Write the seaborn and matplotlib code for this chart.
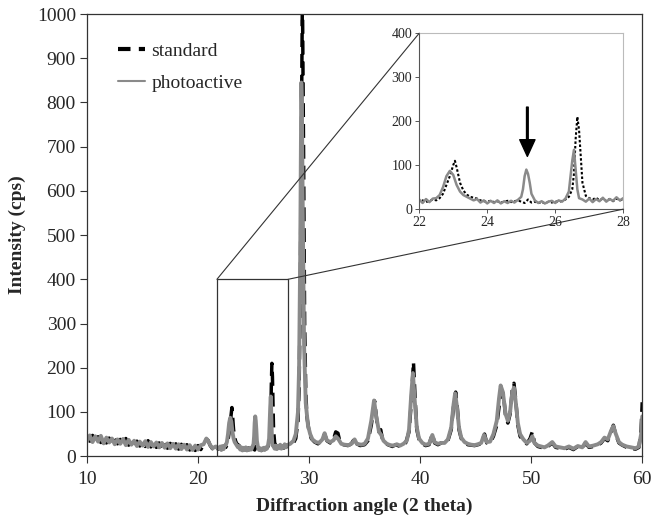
import matplotlib
matplotlib.use("Agg")
import matplotlib.pyplot as plt
import seaborn as sns
import pandas as pd
from matplotlib.patches import Rectangle, ConnectionPatch
from matplotlib.lines import Line2D

# -----------------------------------
# Data (read from the XRD pattern)
# -----------------------------------
std_angle = [
    10.0, 10.25, 10.5, 10.75, 11.0, 11.25, 11.5, 11.75, 12.0, 12.25, 12.5, 12.75,
    13.0, 13.25, 13.5, 13.75, 14.0, 14.25, 14.5, 14.75, 15.0, 15.25, 15.5, 15.75,
    16.0, 16.25, 16.5, 16.75, 17.0, 17.25, 17.5, 17.75, 18.0, 18.25, 18.5, 18.75,
    19.0, 19.25, 19.5, 19.75, 20.0, 20.25, 20.5, 20.75, 20.9, 21.1, 21.3, 21.6, 21.8,
    22.0, 22.1, 22.2, 22.3, 22.4, 22.5, 22.6, 22.7, 22.8, 22.9, 23.0, 23.05, 23.1,
    23.2, 23.3, 23.4, 23.5, 23.6, 23.7, 23.8, 23.9, 24.0, 24.1, 24.2, 24.3, 24.4,
    24.5, 24.6, 24.7, 24.8, 24.9, 25.0, 25.1, 25.2, 25.3, 25.4, 25.5, 25.6, 25.7,
    25.8, 25.9, 26.0, 26.1, 26.2, 26.3, 26.4, 26.5, 26.55, 26.6, 26.65, 26.7, 26.75,
    26.8, 26.9, 27.0, 27.1, 27.2, 27.3, 27.4, 27.5, 27.6, 27.7, 27.8, 27.9,
    28.0, 28.3, 28.6, 28.8, 29.0, 29.1, 29.2, 29.3, 29.4, 29.5, 29.6, 29.7, 29.8,
    30.0, 30.2, 30.5, 30.8, 31.1, 31.4, 31.6, 31.9, 32.2, 32.4, 32.6, 32.8, 33.1,
    33.5, 33.8, 34.1, 34.3, 34.6, 35.0, 35.3, 35.6, 35.9, 36.1, 36.3, 36.45, 36.6,
    36.9, 37.2, 37.5, 37.8, 38.1, 38.4, 38.7, 39.0, 39.2, 39.4, 39.55, 39.7, 39.9,
    40.2, 40.5, 40.8, 41.1, 41.3, 41.6, 41.9, 42.2, 42.5, 42.8, 43.0, 43.2, 43.35,
    43.5, 43.7, 44.0, 44.3, 44.6, 44.9, 45.2, 45.5, 45.8, 46.0, 46.3, 46.6, 46.9,
    47.1, 47.3, 47.5, 47.7, 47.9, 48.1, 48.3, 48.45, 48.6, 48.8, 49.0, 49.3, 49.6,
    49.9, 50.1, 50.3, 50.6, 50.9, 51.2, 51.5, 51.9, 52.2, 52.6, 53.0, 53.4, 53.8,
    54.2, 54.6, 54.9, 55.2, 55.6, 56.0, 56.3, 56.6, 56.9, 57.2, 57.4, 57.6, 57.9,
    58.2, 58.6, 59.0, 59.4, 59.7, 59.9, 60.0,
]
std_counts = [
    46, 34, 47, 33, 44, 31, 45, 30, 41, 29, 40, 28,
    38, 27, 40, 25, 36, 25, 34, 23, 33, 22, 35, 21,
    31, 20, 30, 19, 31, 18, 29, 17, 28, 16, 27, 15,
    26, 14, 25, 13, 24, 15, 26, 38, 36, 24, 17, 23, 16,
    18, 20, 16, 19, 22, 20, 25, 35, 55, 75, 100, 110, 95,
    60, 42, 33, 28, 26, 24, 20, 18, 17, 19, 16, 18, 15,
    17, 19, 16, 18, 20, 17, 14, 22, 15, 17, 14, 16, 13,
    17, 15, 18, 16, 19, 22, 28, 45, 80, 160, 210, 180, 120,
    60, 30, 25, 22, 26, 20, 24, 19, 23, 18, 24, 20,
    22, 25, 30, 40, 80, 150, 350, 700, 1050, 700, 300, 150, 90,
    55, 40, 32, 28, 35, 50, 35, 30, 38, 55, 52, 30, 26,
    24, 28, 40, 28, 24, 26, 35, 70, 125, 80, 55, 60, 40,
    28, 25, 22, 26, 23, 25, 30, 55, 120, 213, 130, 60, 38,
    28, 24, 26, 50, 30, 26, 30, 28, 35, 60, 110, 145, 110,
    60, 40, 30, 26, 25, 24, 26, 28, 50, 30, 30, 45, 70,
    110, 150, 140, 90, 75, 95, 150, 165, 130, 70, 45, 35, 28,
    40, 55, 30, 22, 20, 18, 22, 30, 20, 18, 16, 20, 15,
    22, 18, 30, 20, 22, 25, 30, 40, 35, 55, 70, 50, 30,
    25, 20, 18, 16, 20, 60, 122,
]

photo_angle = [
    10.0, 10.25, 10.5, 10.75, 11.0, 11.25, 11.5, 11.75, 12.0, 12.25, 12.5, 12.75,
    13.0, 13.25, 13.5, 13.75, 14.0, 14.25, 14.5, 14.75, 15.0, 15.25, 15.5, 15.75,
    16.0, 16.25, 16.5, 16.75, 17.0, 17.25, 17.5, 17.75, 18.0, 18.25, 18.5, 18.75,
    19.0, 19.25, 19.5, 19.75, 20.0, 20.25, 20.5, 20.75, 20.9, 21.1, 21.3, 21.6, 21.8,
    22.0, 22.1, 22.2, 22.3, 22.4, 22.5, 22.6, 22.7, 22.8, 22.9, 23.0, 23.1, 23.2,
    23.3, 23.4, 23.5, 23.6, 23.7, 23.8, 23.9, 24.0, 24.1, 24.2, 24.3, 24.4, 24.5,
    24.6, 24.7, 24.8, 24.9, 25.0, 25.05, 25.1, 25.15, 25.2, 25.25, 25.3, 25.4, 25.5,
    25.6, 25.7, 25.8, 25.9, 26.0, 26.1, 26.2, 26.3, 26.4, 26.45, 26.5, 26.55, 26.6,
    26.65, 26.7, 26.8, 26.9, 27.0, 27.1, 27.2, 27.3, 27.4, 27.5, 27.6, 27.7, 27.8, 27.9,
    28.0, 28.3, 28.6, 28.8, 29.0, 29.1, 29.2, 29.3, 29.35, 29.45, 29.55, 29.7, 29.9,
    30.1, 30.3, 30.6, 30.9, 31.2, 31.4, 31.6, 31.9, 32.2, 32.4, 32.6, 32.9, 33.2,
    33.6, 33.9, 34.1, 34.3, 34.7, 35.0, 35.3, 35.6, 35.85, 36.05, 36.3, 36.5, 36.7,
    37.0, 37.3, 37.6, 37.9, 38.2, 38.5, 38.8, 39.0, 39.2, 39.35, 39.5, 39.7, 39.9,
    40.2, 40.5, 40.8, 41.1, 41.3, 41.6, 41.9, 42.2, 42.5, 42.8, 43.0, 43.15, 43.3,
    43.5, 43.7, 44.0, 44.3, 44.6, 44.9, 45.2, 45.5, 45.75, 46.0, 46.3, 46.6, 46.9,
    47.1, 47.25, 47.45, 47.7, 47.9, 48.1, 48.3, 48.45, 48.6, 48.8, 49.0, 49.3, 49.6,
    49.9, 50.1, 50.3, 50.6, 50.9, 51.2, 51.5, 51.9, 52.2, 52.6, 53.0, 53.4, 53.8,
    54.2, 54.6, 54.9, 55.2, 55.6, 56.0, 56.3, 56.6, 56.9, 57.2, 57.4, 57.6, 57.9,
    58.2, 58.6, 59.0, 59.4, 59.7, 59.9, 60.0,
]
photo_counts = [
    34, 47, 32, 45, 33, 46, 29, 42, 31, 40, 27, 38,
    28, 39, 25, 37, 26, 35, 23, 33, 24, 34, 21, 32,
    22, 31, 20, 30, 19, 29, 18, 28, 17, 27, 16, 26,
    15, 25, 14, 24, 15, 25, 27, 40, 35, 25, 18, 22, 17,
    22, 14, 23, 16, 24, 25, 32, 50, 75, 87, 78, 55, 40,
    32, 28, 24, 20, 23, 15, 20, 13, 19, 14, 20, 13, 18,
    14, 19, 15, 21, 28, 45, 75, 90, 80, 60, 35, 20, 14,
    18, 13, 17, 19, 14, 20, 17, 24, 40, 75, 110, 135, 90,
    45, 25, 22, 17, 24, 16, 23, 18, 26, 17, 23, 19, 27, 20,
    25, 28, 35, 50, 100, 200, 450, 845, 800, 500, 250, 120, 70,
    50, 38, 32, 30, 38, 52, 36, 32, 36, 45, 40, 28, 26,
    25, 30, 38, 28, 26, 28, 40, 80, 126, 90, 55, 48, 35,
    28, 25, 24, 27, 24, 28, 35, 60, 140, 188, 130, 65, 40,
    30, 26, 28, 48, 32, 28, 30, 30, 38, 65, 115, 142, 115,
    65, 42, 32, 28, 26, 25, 27, 30, 48, 32, 33, 50, 80,
    130, 160, 145, 95, 80, 100, 145, 155, 125, 75, 50, 38, 30,
    35, 45, 30, 24, 22, 20, 24, 32, 22, 20, 18, 22, 17,
    23, 20, 32, 22, 24, 27, 32, 42, 38, 58, 68, 52, 32,
    26, 22, 20, 18, 22, 50, 90,
]

x_ticks = [10, 20, 30, 40, 50, 60]
y_ticks = [0, 100, 200, 300, 400, 500, 600, 700, 800, 900, 1000]
inset_x_ticks = [22, 24, 26, 28]
inset_y_ticks = [0, 100, 200, 300, 400]

df_std = pd.DataFrame({"angle": std_angle, "counts": std_counts})
df_photo = pd.DataFrame({"angle": photo_angle, "counts": photo_counts})

# -----------------------------------
# Style
# -----------------------------------
sns.set_theme(style="white")
plt.rcParams["font.family"] = ["Liberation Serif", "DejaVu Serif"]

GRAY = "#8a8a8a"

fig = plt.figure(figsize=(6.54, 5.19), dpi=100)
ax = fig.add_axes([0.133, 0.121, 0.849, 0.852])

sns.lineplot(data=df_std, x="angle", y="counts", ax=ax, color="black",
             linestyle=(0, (4, 2)), linewidth=2.5, sort=False, estimator=None)
sns.lineplot(data=df_photo, x="angle", y="counts", ax=ax, color=GRAY,
             linewidth=2.8, sort=False, estimator=None)

ax.set_xlim(10, 60)
ax.set_ylim(0, 1000)
ax.set_xticks(x_ticks)
ax.set_yticks(y_ticks)
ax.tick_params(axis="both", direction="out", length=5, width=0.8, color="#333333",
               labelsize=14, left=True, bottom=True)
ax.tick_params(axis="x", pad=6)
ax.tick_params(axis="y", pad=3)
for s in ax.spines.values():
    s.set_color("#333333")
    s.set_linewidth(0.9)

ax.set_xlabel("Diffraction angle (2 theta)", fontsize=14, fontweight="bold")
ax.set_ylabel("Intensity (cps)", fontsize=14, fontweight="bold")
ax.xaxis.set_label_coords(0.5, -0.094)
ax.yaxis.set_label_coords(-0.11, 0.5)

handles = [
    Line2D([], [], color="black", linestyle=(0, (3, 2)), linewidth=3),
    Line2D([], [], color=GRAY, linewidth=1.5),
]
ax.legend(handles, ["standard", "photoactive"], loc="upper left",
          bbox_to_anchor=(0.056, 0.936), borderaxespad=0, borderpad=0,
          frameon=False, fontsize=14, handlelength=1.4, handletextpad=0.3,
          labelspacing=0.75)

# zoom box
ax.add_patch(Rectangle((21.7, 0), 6.4, 400, fill=False, edgecolor="#333333",
                       linewidth=0.9, zorder=5))

# -----------------------------------
# Inset
# -----------------------------------
ax_in = fig.add_axes([0.641, 0.597, 0.312, 0.339])
ax_in.set_facecolor("white")
sns.lineplot(data=df_std, x="angle", y="counts", ax=ax_in, color="black",
             linestyle=(0, (1.2, 1)), linewidth=1.5, sort=False, estimator=None)
sns.lineplot(data=df_photo, x="angle", y="counts", ax=ax_in, color=GRAY,
             linewidth=1.8, sort=False, estimator=None)
ax_in.set_xlim(22, 28)
ax_in.set_ylim(0, 400)
ax_in.set_xticks(inset_x_ticks)
ax_in.set_yticks(inset_y_ticks)
ax_in.set_xlabel("")
ax_in.set_ylabel("")
ax_in.tick_params(axis="both", direction="out", length=3, width=0.7, color="#555555",
                  labelsize=10, left=True, bottom=True, pad=2)
ax_in.spines["top"].set_color("#bbbbbb")
ax_in.spines["right"].set_color("#bbbbbb")
ax_in.spines["left"].set_color("#555555")
ax_in.spines["bottom"].set_color("#555555")
for s in ax_in.spines.values():
    s.set_linewidth(0.8)

ax_in.annotate("", xy=(25.18, 120), xytext=(25.18, 232),
               arrowprops=dict(facecolor="black", edgecolor="black", width=1.2,
                               headwidth=11, headlength=12, shrink=0))

# connector lines
con1 = ConnectionPatch(xyA=(21.7, 400), coordsA=ax.transData,
                       xyB=(22, 400), coordsB=ax_in.transData,
                       color="#333333", linewidth=0.8)
con2 = ConnectionPatch(xyA=(28.1, 400), coordsA=ax.transData,
                       xyB=(28, 0), coordsB=ax_in.transData,
                       color="#333333", linewidth=0.8)
fig.add_artist(con1)
fig.add_artist(con2)

plt.savefig("out.png", dpi=100)
plt.close()
